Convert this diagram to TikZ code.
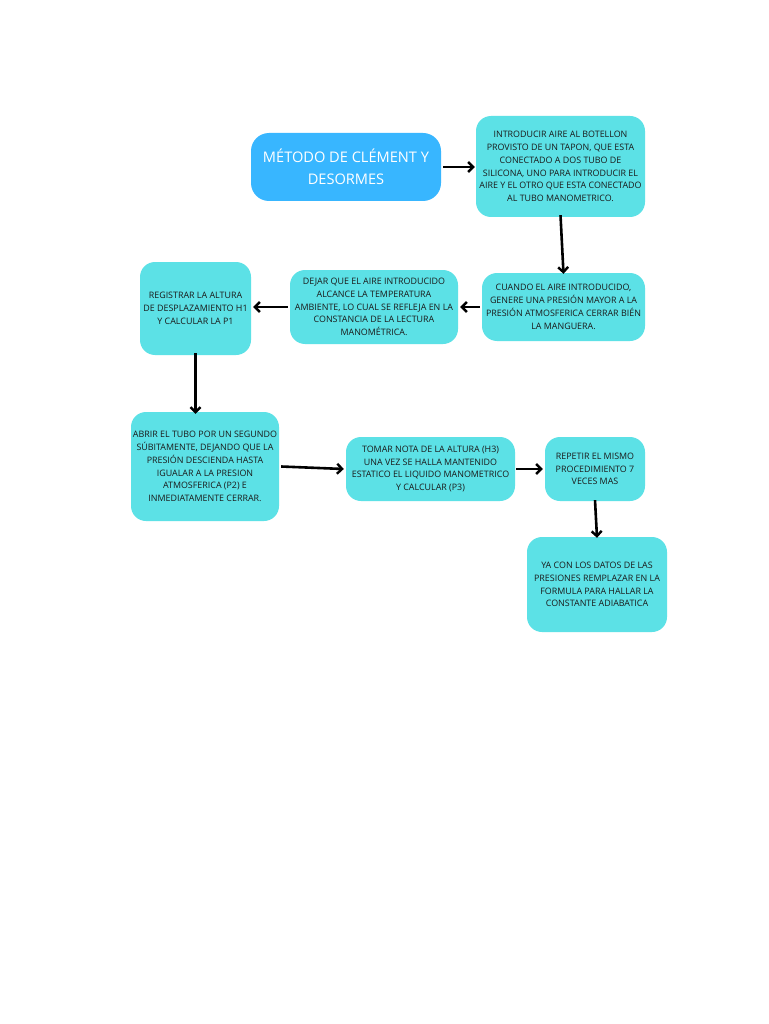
\documentclass[tikz,border=0pt]{standalone}
\usepackage{fontspec}
\setmainfont{Open Sans}
\newfontfamily\titlefont{Open Sans}
\usetikzlibrary{arrows.meta}
\definecolor{cyanbox}{HTML}{5CE1E6}
\definecolor{bluebox}{HTML}{38B6FF}
\definecolor{txt}{HTML}{1A1A1A}
\tikzset{
  stepbox/.style={draw=none, fill=cyanbox, rounded corners=15pt, align=center,
    inner sep=1pt, text=txt, font=\fontsize{8.9}{12.8}\selectfont},
  titlebox/.style={draw=none, fill=bluebox, rounded corners=18pt, align=center,
    text=white, font=\titlefont\fontsize{14.6}{22}\selectfont},
  conn/.style={line width=2.6pt, black, -{Straight Barb[length=5pt,width=10pt,line width=2.4pt]}}
}
\begin{document}
\begin{tikzpicture}[x=1pt,y=-1pt]
\useasboundingbox[fill=white] (0,0) rectangle (768,1024);
\node[titlebox, minimum width=190pt, minimum height=68pt] (title) at (346,167)
  {MÉTODO DE CLÉMENT Y\\DESORMES};
\node[stepbox, minimum width=169pt, minimum height=101pt] (intro) at (560.5,166.5)
  {INTRODUCIR AIRE AL BOTELLON\\PROVISTO DE UN TAPON, QUE ESTA\\CONECTADO A DOS TUBO DE\\SILICONA, UNO PARA INTRODUCIR EL\\AIRE Y EL OTRO QUE ESTA CONECTADO\\AL TUBO MANOMETRICO.};
\node[stepbox, minimum width=163pt, minimum height=68pt] (cuando) at (563.5,307)
  {CUANDO EL AIRE INTRODUCIDO,\\GENERE UNA PRESIÓN MAYOR A LA\\PRESIÓN ATMOSFERICA CERRAR BIÉN\\LA MANGUERA.};
\node[stepbox, minimum width=168pt, minimum height=74pt] (dejar) at (374,307)
  {DEJAR QUE EL AIRE INTRODUCIDO\\ALCANCE LA TEMPERATURA\\AMBIENTE, LO CUAL SE REFLEJA EN LA\\CONSTANCIA DE LA LECTURA\\MANOMÉTRICA.};
\node[stepbox, minimum width=111pt, minimum height=93pt] (registrar) at (195.5,308.5)
  {REGISTRAR LA ALTURA\\DE DESPLAZAMIENTO H1\\Y CALCULAR LA P1};
\node[stepbox, minimum width=148pt, minimum height=109pt] (abrir) at (205,466.5)
  {ABRIR EL TUBO POR UN SEGUNDO\\SÚBITAMENTE, DEJANDO QUE LA\\PRESIÓN DESCIENDA HASTA\\IGUALAR A LA PRESION\\ATMOSFERICA (P2) E\\INMEDIATAMENTE CERRAR.};
\node[stepbox, minimum width=169pt, minimum height=64pt] (tomar) at (430.5,469)
  {TOMAR NOTA DE LA ALTURA (H3)\\UNA VEZ SE HALLA MANTENIDO\\ESTATICO EL LIQUIDO MANOMETRICO\\Y CALCULAR (P3)};
\node[stepbox, minimum width=100pt, minimum height=64pt] (repetir) at (595,469)
  {REPETIR EL MISMO\\PROCEDIMIENTO 7\\VECES MAS};
\node[stepbox, minimum width=140pt, minimum height=95pt] (ya) at (597,584.5)
  {YA CON LOS DATOS DE LAS\\PRESIONES REMPLAZAR EN LA\\FORMULA PARA HALLAR LA\\CONSTANTE ADIABATICA};
\draw[conn] ([xshift=2pt]title.east) -- ([xshift=-1pt]intro.west |- title.east);
\draw[conn] ([yshift=2pt]intro.south) -- ([yshift=-1pt]cuando.north);
\draw[conn] ([xshift=-2pt]cuando.west) -- ([xshift=2pt]dejar.east);
\draw[conn] ([xshift=-2pt]dejar.west) -- ([xshift=2pt]registrar.east |- dejar.west);
\draw[conn] ([yshift=2pt]registrar.south) -- ([yshift=-2pt]registrar.south |- abrir.north);
\draw[conn] ([xshift=2pt]abrir.east) -- ([xshift=-2pt]tomar.west);
\draw[conn] ([xshift=1pt]tomar.east) -- ([xshift=-2pt]repetir.west);
\draw[conn] ([yshift=1pt]repetir.south) -- ([yshift=-1pt]ya.north);
\end{tikzpicture}
\end{document}
